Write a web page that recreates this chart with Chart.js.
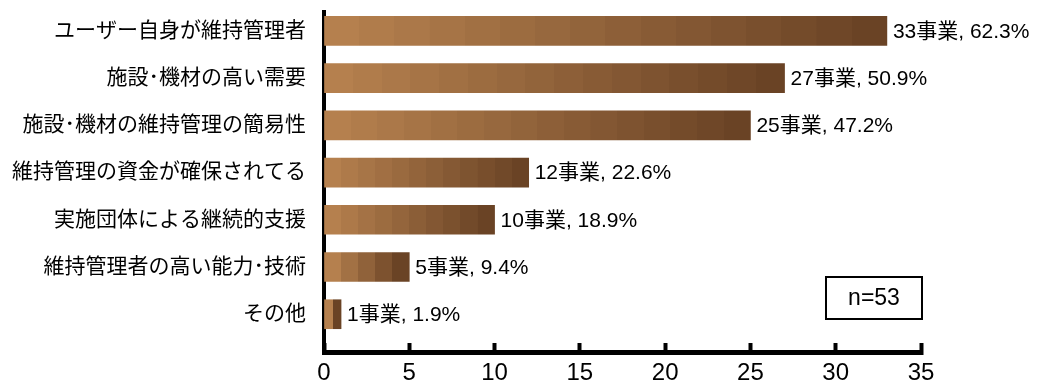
<!DOCTYPE html>
<html>
<head>
<meta charset="utf-8">
<script src="https://cdn.jsdelivr.net/npm/chart.js@4/dist/chart.umd.min.js"></script>
<style>
  html, body { margin: 0; padding: 0; background: #fff; }
  #wrap { width: 1037px; height: 383px; }
</style>
</head>
<body>
<div id="wrap"><canvas id="chart"></canvas></div>
<script>
// 成功要因（複数回答, n=53）
const categories = [
  'ユーザー自身が維持管理者',
  '施設･機材の高い需要',
  '施設･機材の維持管理の簡易性',
  '維持管理の資金が確保されてる',
  '実施団体による継続的支援',
  '維持管理者の高い能力･技術',
  'その他',
];
const counts = [33, 27, 25, 12, 10, 5, 1];
const percents = [62.3, 50.9, 47.2, 22.6, 18.9, 9.4, 1.9];
const xTicks = [0, 5, 10, 15, 20, 25, 30, 35];
const sampleNote = 'n=53';

const FONT = "'Liberation Sans', 'Noto Sans CJK JP', sans-serif";
const LIGHT = [181, 128, 78];
const DARK = [106, 67, 37];

// banded light-to-dark fill, stretched over each bar's own length
function barFill(ctx) {
  const chart = ctx.chart;
  if (!chart.chartArea || !ctx.raw) return 'rgb(150,100,60)';
  const x = chart.scales.x;
  const x0 = x.getPixelForValue(0);
  const x1 = x.getPixelForValue(ctx.raw.x);
  const g = chart.ctx.createLinearGradient(x0, 0, x1, 0);
  const bands = Math.min(16, Math.max(2, Math.round(ctx.raw.x)));
  for (let i = 0; i < bands; i++) {
    const t = i / (bands - 1);
    const c = LIGHT.map((l, k) => Math.round(l + (DARK[k] - l) * t));
    const col = `rgb(${c[0]},${c[1]},${c[2]})`;
    g.addColorStop(i / bands, col);
    g.addColorStop((i + 1) / bands - 0.0001, col);
  }
  return g;
}

const valueLabels = {
  id: 'valueLabels',
  afterDatasetsDraw(chart) {
    const { ctx } = chart;
    const meta = chart.getDatasetMeta(0);
    ctx.save();
    ctx.font = `21px ${FONT}`;
    ctx.fillStyle = '#000';
    ctx.textBaseline = 'middle';
    ctx.textAlign = 'left';
    meta.data.forEach((bar, i) => {
      ctx.fillText(`${counts[i]}事業, ${percents[i]}%`, bar.x + 6, bar.y + 1);
    });
    ctx.restore();
  },
};

const noteBox = {
  id: 'noteBox',
  afterDraw(chart) {
    const { ctx, chartArea } = chart;
    const right = chart.scales.x.getPixelForValue(35) + 1;
    const w = 96, h = 42;
    const left = right - w;
    const top = chartArea.bottom - 75;
    ctx.save();
    ctx.lineWidth = 2;
    ctx.strokeStyle = '#000';
    ctx.strokeRect(left, top, w, h);
    ctx.font = `23px ${FONT}`;
    ctx.fillStyle = '#000';
    ctx.textAlign = 'center';
    ctx.textBaseline = 'middle';
    ctx.fillText(sampleNote, left + w / 2, top + h / 2 + 1);
    ctx.restore();
  },
};

new Chart(document.getElementById('chart'), {
  type: 'bar',
  data: {
    datasets: [{
      data: counts.map((v, i) => ({ x: v, y: i })),
      backgroundColor: barFill,
      borderWidth: 0,
      barThickness: 29,
    }],
  },
  options: {
    indexAxis: 'y',
    responsive: true,
    maintainAspectRatio: false,
    animation: false,
    layout: { padding: { top: 12, right: 116, left: 0, bottom: 0 } },
    plugins: {
      legend: { display: false },
      tooltip: { enabled: false },
    },
    scales: {
      x: {
        type: 'linear',
        min: 0,
        max: 35,
        afterBuildTicks: s => { s.ticks = xTicks.map(v => ({ value: v })); },
        afterFit: s => { s.height = 31; },
        border: { display: true, color: '#000', width: 5 },
        grid: {
          drawOnChartArea: false,
          drawTicks: true,
          tickLength: -9,
          tickWidth: 4,
          tickColor: '#000',
        },
        ticks: { color: '#000', font: { family: FONT, size: 24 }, padding: 16 },
      },
      y: {
        type: 'linear',
        reverse: true,
        offset: false,
        min: -0.4,
        max: 6.8,
        afterBuildTicks: s => { s.ticks = categories.map((_, i) => ({ value: i })); },
        afterFit: s => { s.width = 324; s.paddingTop = 0; s.paddingBottom = 0; },
        border: { display: true, color: '#000', width: 4 },
        grid: { display: false, drawTicks: false, offset: false },
        ticks: {
          color: '#000',
          font: { family: FONT, size: 21 },
          padding: 18,
          autoSkip: false,
          callback: v => categories[v] ?? '',
        },
      },
    },
  },
  plugins: [valueLabels, noteBox],
});
</script>
</body>
</html>
